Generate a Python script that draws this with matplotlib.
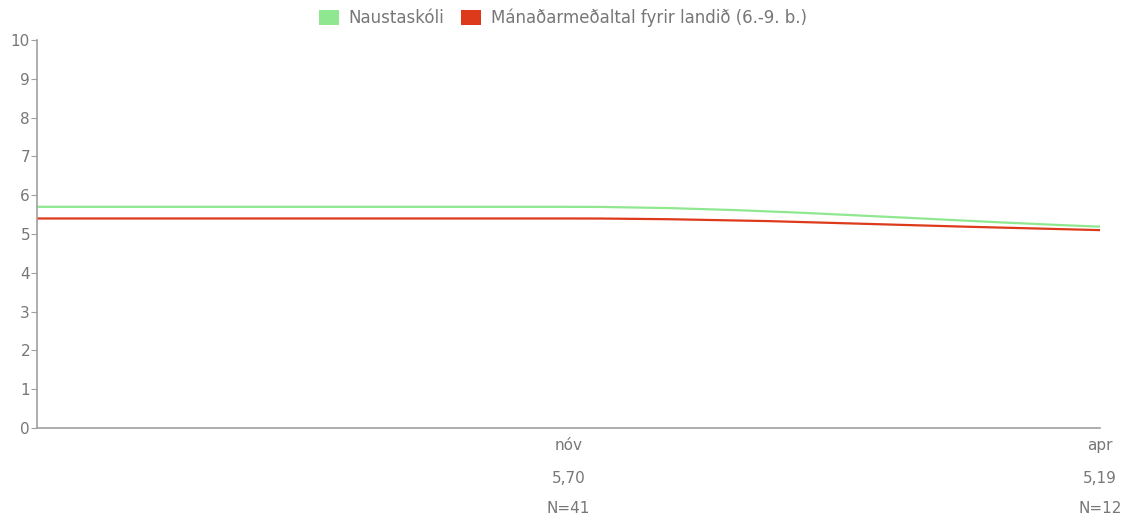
import matplotlib.pyplot as plt
from matplotlib.path import Path
from matplotlib.patches import PathPatch, Patch

plt.rcParams['font.family'] = ['DejaVu Sans']

# Data
months = ['', 'nóv', 'apr']
school = [5.70, 5.70, 5.19]
national = [5.40, 5.40, 5.10]
avg_labels = ['', '5,70', '5,19']
n_labels = ['', 'N=41', 'N=12']
series_names = ['Naustaskóli', 'Mánaðarmeðaltal fyrir landið (6.-9. b.)']
colors = ['#8fe88f', '#dd3a1c']


def smooth_path(xs, ys):
    # monotone cubic (Fritsch-Carlson style) bezier through the points
    n = len(xs)
    d = [(ys[i + 1] - ys[i]) / (xs[i + 1] - xs[i]) for i in range(n - 1)]
    m = [d[0]] + [0.0] * (n - 2) + [d[-1]]
    for i in range(1, n - 1):
        if d[i - 1] * d[i] > 0:
            m[i] = 2 / (1 / d[i - 1] + 1 / d[i])
    verts = [(xs[0], ys[0])]
    codes = [Path.MOVETO]
    for i in range(n - 1):
        h = xs[i + 1] - xs[i]
        verts += [(xs[i] + h / 3, ys[i] + m[i] * h / 3),
                  (xs[i + 1] - h / 3, ys[i + 1] - m[i + 1] * h / 3),
                  (xs[i + 1], ys[i + 1])]
        codes += [Path.CURVE4] * 3
    return Path(verts, codes)


fig = plt.figure(figsize=(11.28, 5.23), dpi=100)
ax = fig.add_axes([37 / 1128, 1 - 428 / 523, (1100 - 37) / 1128, (428 - 40) / 523])

x = list(range(len(months)))
for vals, col in zip([school, national], colors):
    ax.add_patch(PathPatch(smooth_path(x, vals), facecolor='none',
                           edgecolor=col, lw=1.6, capstyle='butt'))

ax.set_xlim(0, len(months) - 1)
ax.set_ylim(0, 10)
ax.set_yticks(range(0, 11))
ax.set_xticks(x)
ax.set_xticklabels(months)

grey = '#777777'
fs = 11
for s in ['top', 'right']:
    ax.spines[s].set_visible(False)
for s in ['left', 'bottom']:
    ax.spines[s].set_color('#a0a0a0')
    ax.spines[s].set_linewidth(1.2)
ax.tick_params(axis='y', length=4, width=0.8, color='#a0a0a0', labelcolor=grey,
               labelsize=fs, pad=1)
ax.tick_params(axis='x', length=0, labelcolor=grey, labelsize=fs, pad=7)

for xi, a, nl in zip(x, avg_labels, n_labels):
    ax.annotate(a, (xi, 0), xytext=(0, -39.5), textcoords='offset points',
                ha='center', va='baseline', fontsize=fs, color=grey,
                annotation_clip=False)
    ax.annotate(nl, (xi, 0), xytext=(0, -61), textcoords='offset points',
                ha='center', va='baseline', fontsize=fs, color=grey,
                annotation_clip=False)

handles = [Patch(facecolor=c, edgecolor='none') for c in colors]
fig.legend(handles, series_names, loc='center', bbox_to_anchor=(563 / 1128, 1 - 18 / 523),
           ncol=2, frameon=False, fontsize=12, labelcolor=grey,
           handlelength=1.2, handleheight=1.05, handletextpad=0.6, columnspacing=1.0)

fig.savefig('out.png', dpi=100)
plt.close(fig)
